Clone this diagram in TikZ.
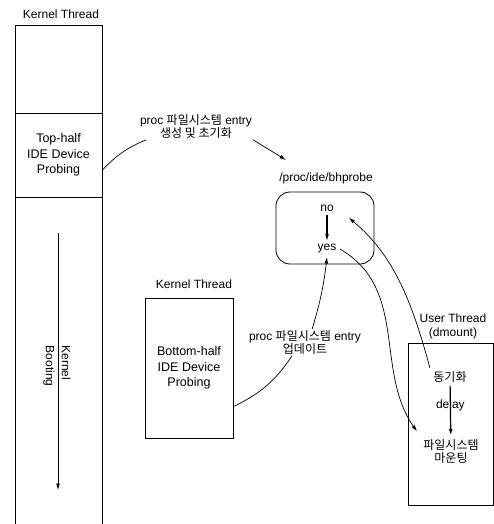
\documentclass[tikz,border=0pt]{standalone}
\usepackage{fontspec}
\setmainfont{Liberation Sans}
\newfontfamily\kr{Noto Sans CJK KR}
\usetikzlibrary{arrows.meta}

\begin{document}
\begin{tikzpicture}[x=1pt, y=-1pt,
  font=\fontsize{12}{13.5}\selectfont, >={Latex[length=6.5pt,width=3.8pt]},
  blk/.style={draw, line width=0.8pt, align=center, inner sep=0pt,
              font=\fontsize{12.5}{15.5}\selectfont},
  lbl/.style={align=center, inner sep=1pt},
  ln/.style={line width=0.7pt},
  arr/.style={->, line width=0.7pt},
]
\useasboundingbox (0,0) rectangle (494,524);

% 왼쪽: 커널 스레드 (아래로 계속 이어짐)
\node[lbl] (kt1) at (61,14) {Kernel Thread};
\node[draw, line width=0.8pt, minimum width=87, minimum height=510, anchor=north west] (kcol) at (15,25) {};
\node[blk, minimum width=87, minimum height=84] (top) at (58.5,155) {Top-half\\IDE Device\\Probing};

\coordinate (bootS) at (58,233);
\coordinate (bootE) at (58,490);
\draw[arr] (bootS) -- (bootE);
\node[rotate=-90, align=left, font=\fontsize{12}{16}\selectfont] (boot) at (57,366) {Kernel\\Booting};

% proc 엔트리 생성
\node[lbl] (lbl1) at (196,126.5) {proc {\kr 파일시스템} entry\\{\kr 생성 및 초기화}};
\coordinate (p1) at (286,160);
\draw[ln] (top.-19) to[bend left=12] (lbl1.195);
\draw[arr] (lbl1.south east) -- (p1);

% /proc/ide/bhprobe
\node[lbl] (bhlbl) at (326,178) {/proc/ide/bhprobe};
\node[draw, line width=0.8pt, rounded corners=14pt, minimum width=98, minimum height=72] (bh) at (325,228) {};
\node (no)  at (327,208) {no};
\node (yes) at (327,249) {yes};
\draw[->, line width=1.2pt] (no) -- (yes);

% 가운데: bottom-half 커널 스레드
\node[lbl] (kt2) at (194,284) {Kernel Thread};
\node[blk, minimum width=88, minimum height=140] (bot) at (189,368) {Bottom-half\\IDE Device\\Probing};
\node[lbl] (lbl2) at (305,342.5) {proc {\kr 파일시스템} entry\\{\kr 업데이트}};
\draw[ln] (bot.-41.5) to[bend right=15] (lbl2.226);
\draw[arr] (lbl2.62) to[bend right=5] (yes.south);

% 오른쪽: 사용자 스레드 (dmount)
\node[lbl] (ut) at (453,326.5) {User Thread\\(dmount)};
\node[draw, line width=0.8pt, minimum width=85, minimum height=162, anchor=north west] (ubox) at (408,343) {};
\node (sync) at (450,377) {\kr 동기화};
\node[align=center, font=\kr\fontsize{12}{13}\selectfont] (fs) at (451,451) {파일시스템\\마운팅};
\draw[->, line width=1.2pt] (sync) -- node[pos=0.4] {delay} (fs);

\draw[arr, shorten >=15pt] (sync.north west) to[out=105, in=-40] (no.east);
\draw[arr, shorten >=5pt] (yes.east) to[out=-30, in=125] (fs.north west);
\end{tikzpicture}
\end{document}
